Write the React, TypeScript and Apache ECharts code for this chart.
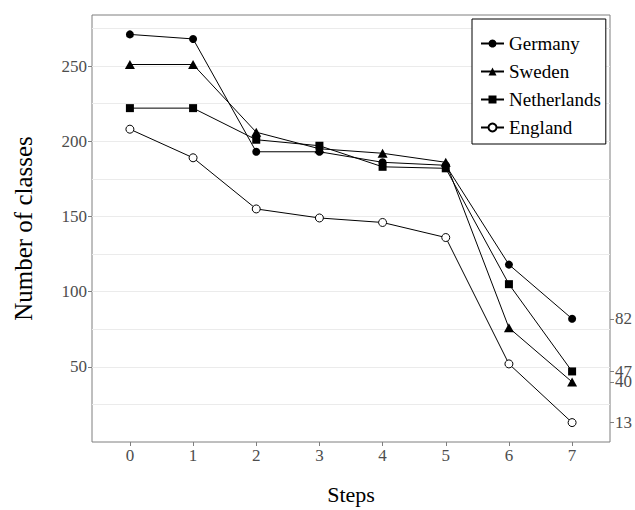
import React, { useEffect, useRef } from "react";
import * as echarts from "echarts";

// Pruning steps on the x axis
const steps = [0, 1, 2, 3, 4, 5, 6, 7];

// Number of classes remaining after each step
const germany = [271, 268, 193, 193, 186, 184, 118, 82];
const sweden = [251, 251, 206, 195, 192, 186, 76, 40];
const netherlands = [222, 222, 201, 197, 183, 182, 105, 47];
const england = [208, 189, 155, 149, 146, 136, 52, 13];

// Axis ticks
const leftTicks = [50, 100, 150, 200, 250];
const gridValues = [25, 50, 75, 100, 125, 150, 175, 200, 225, 250, 275];
const rightTicks = [13, 40, 47, 82];

const serif = "Liberation Serif";
const tickGray = "#4d4d4d";
const borderGray = "#7f7f7f";

const Y_MIN = 0.1;
const Y_MAX = 283.9;

function toPoints(values: number[]) {
  return steps.map((s, i) => [s, values[i]]);
}

export default function App() {
  const ref = useRef<HTMLDivElement>(null);

  useEffect(() => {
    if (!ref.current) return;
    const chart = echarts.init(ref.current, null, { renderer: "svg" });

    const lineBase = {
      type: "line" as const,
      yAxisIndex: 0,
      z: 3,
      lineStyle: { color: "#000", width: 1 },
      emphasis: { disabled: true },
    };

    const tickLabel = {
      color: tickGray,
      fontFamily: serif,
      fontSize: 17,
      margin: 5,
    };

    chart.setOption({
      animation: false,
      backgroundColor: "#fff",
      textStyle: { fontFamily: serif },
      grid: {
        left: 92,
        right: 23,
        top: 15,
        bottom: 66,
        show: true,
        borderColor: borderGray,
        borderWidth: 1,
        backgroundColor: "#fff",
      },
      legend: {
        data: ["Germany", "Sweden", "Netherlands", "England"],
        orient: "vertical",
        left: 472,
        top: 19,
        itemWidth: 23,
        itemHeight: 10,
        itemGap: 9,
        padding: [15, 5, 7, 8],
        borderColor: "#000",
        borderWidth: 1,
        backgroundColor: "#fff",
        textStyle: {
          fontFamily: serif,
          fontSize: 19,
          color: "#000",
        },
      },
      xAxis: {
        type: "value",
        min: -0.6,
        max: 7.6,
        axisLine: { show: false, onZero: false },
        splitLine: { show: false },
        axisTick: {
          show: true,
          customValues: steps,
          length: 4,
          lineStyle: { color: borderGray },
        },
        axisLabel: { ...tickLabel, customValues: steps },
        name: "Steps",
        nameLocation: "middle",
        nameGap: 41,
        nameTextStyle: { fontFamily: serif, fontSize: 22, color: "#000" },
      },
      yAxis: [
        {
          type: "value",
          position: "left",
          min: Y_MIN,
          max: Y_MAX,
          axisLine: { show: false, onZero: false },
          splitLine: { show: false },
          axisTick: {
            show: true,
            customValues: leftTicks,
            length: 4,
            lineStyle: { color: borderGray },
          },
          axisLabel: { ...tickLabel, customValues: leftTicks },
          name: "Number of classes",
          nameLocation: "middle",
          nameGap: 56,
          nameTextStyle: { fontFamily: serif, fontSize: 25, color: "#000" },
        },
        {
          // horizontal grid lines only
          type: "value",
          position: "left",
          min: Y_MIN,
          max: Y_MAX,
          axisLine: { show: false, onZero: false },
          axisTick: { show: false, customValues: gridValues },
          axisLabel: { show: false },
          splitLine: { show: true, lineStyle: { color: "#ebebeb", width: 1 } },
        },
        {
          type: "value",
          position: "right",
          min: Y_MIN,
          max: Y_MAX,
          axisLine: { show: false, onZero: false },
          splitLine: { show: false },
          axisTick: {
            show: true,
            customValues: rightTicks,
            length: 4,
            lineStyle: { color: borderGray },
          },
          axisLabel: { ...tickLabel, customValues: rightTicks },
        },
      ],
      series: [
        {
          ...lineBase,
          name: "Germany",
          data: toPoints(germany),
          symbol: "circle",
          symbolSize: 8,
          itemStyle: { color: "#000" },
        },
        {
          ...lineBase,
          name: "Sweden",
          data: toPoints(sweden),
          symbol: "triangle",
          symbolSize: [10, 9],
          itemStyle: { color: "#000" },
        },
        {
          ...lineBase,
          name: "Netherlands",
          data: toPoints(netherlands),
          symbol: "rect",
          symbolSize: 8,
          itemStyle: { color: "#000" },
        },
        {
          ...lineBase,
          name: "England",
          data: toPoints(england),
          symbol: "circle",
          symbolSize: 8,
          itemStyle: { color: "#fff", borderColor: "#000", borderWidth: 1 },
        },
      ],
    });

    return () => chart.dispose();
  }, []);

  return (
    <div
      ref={ref}
      style={{ position: "absolute", left: 0, top: 0, width: 635, height: 510 }}
    />
  );
}
